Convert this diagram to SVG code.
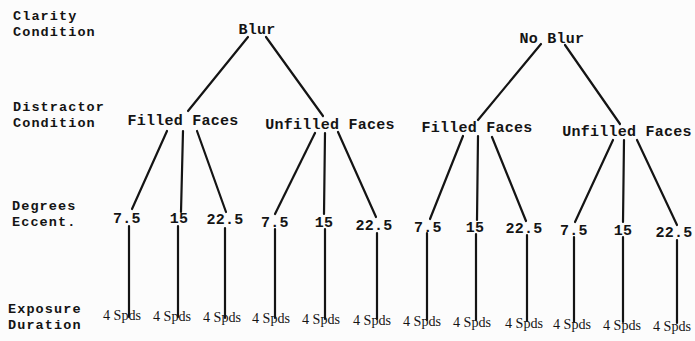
<svg xmlns="http://www.w3.org/2000/svg" width="695" height="341" viewBox="0 0 695 341">
  <defs>
    <style>
      .bg { fill: #fcfcfc; }
      .lbl { font-family: "Liberation Mono", "DejaVu Sans Mono", monospace; font-weight: bold; font-size: 13.5px; letter-spacing: 1.1px; fill: #141414; }
      .node { font-family: "Liberation Mono", "DejaVu Sans Mono", monospace; font-weight: bold; font-size: 15px; letter-spacing: 0.25px; fill: #141414; text-anchor: middle; }
      .dur { font-family: "Liberation Serif", "DejaVu Serif", serif; font-size: 14px; fill: #141414; text-anchor: middle; }
      .edge { stroke: #141414; stroke-width: 2.2; stroke-linecap: round; fill: none; }
    </style>
  </defs>

  <rect class="bg" x="0" y="0" width="695" height="341"/>

  <!-- row headings -->
  <g id="row-labels">
    <text class="lbl" x="13" y="20">Clarity</text>
    <text class="lbl" x="13" y="36">Condition</text>
    <text class="lbl" x="13" y="111">Distractor</text>
    <text class="lbl" x="13" y="127">Condition</text>
    <text class="lbl" x="12" y="210">Degrees</text>
    <text class="lbl" x="12" y="226">Eccent.</text>
    <text class="lbl" x="8" y="313">Exposure</text>
    <text class="lbl" x="8" y="329">Duration</text>
  </g>

  <!-- connectors -->
  <g id="connectors">
    <!-- clarity to distractor -->
    <line class="edge" x1="248" y1="37" x2="188" y2="111"/>
    <line class="edge" x1="266" y1="37" x2="323" y2="116"/>
    <line class="edge" x1="541" y1="44" x2="478" y2="120"/>
    <line class="edge" x1="565" y1="45" x2="620" y2="124"/>
    <!-- distractor to eccentricity -->
    <line class="edge" x1="167" y1="131" x2="132" y2="209"/>
    <line class="edge" x1="183" y1="131" x2="181" y2="212"/>
    <line class="edge" x1="197" y1="131" x2="226" y2="212"/>
    <line class="edge" x1="315" y1="133" x2="275" y2="214"/>
    <line class="edge" x1="325" y1="133" x2="324" y2="214"/>
    <line class="edge" x1="338" y1="132" x2="376" y2="217"/>
    <line class="edge" x1="463" y1="136" x2="430" y2="219"/>
    <line class="edge" x1="478" y1="136" x2="477" y2="220"/>
    <line class="edge" x1="492" y1="137" x2="526" y2="221"/>
    <line class="edge" x1="613" y1="140" x2="575" y2="222"/>
    <line class="edge" x1="624" y1="140" x2="623" y2="222"/>
    <line class="edge" x1="637" y1="140" x2="677" y2="225"/>
    <!-- eccentricity to exposure -->
    <line class="edge" x1="129" y1="226" x2="129" y2="317"/>
    <line class="edge" x1="178" y1="226" x2="178" y2="317"/>
    <line class="edge" x1="225" y1="228" x2="225" y2="318"/>
    <line class="edge" x1="275" y1="229" x2="275" y2="318"/>
    <line class="edge" x1="325" y1="229" x2="325" y2="319"/>
    <line class="edge" x1="377" y1="233" x2="377" y2="319"/>
    <line class="edge" x1="427" y1="233" x2="427" y2="320"/>
    <line class="edge" x1="476" y1="234" x2="476" y2="320"/>
    <line class="edge" x1="527" y1="235" x2="527" y2="321"/>
    <line class="edge" x1="574" y1="237" x2="574" y2="322"/>
    <line class="edge" x1="623" y1="237" x2="623" y2="322"/>
    <line class="edge" x1="677" y1="240" x2="677" y2="323"/>
  </g>

  <!-- clarity level -->
  <g id="blur"><text class="node" x="257" y="34">Blur</text></g>
  <g id="no-blur"><text class="node" x="552" y="43">No Blur</text></g>

  <!-- distractor level -->
  <g id="blur-filled"><text class="node" x="183" y="125">Filled Faces</text></g>
  <g id="blur-unfilled"><text class="node" x="330" y="129">Unfilled Faces</text></g>
  <g id="noblur-filled"><text class="node" x="477" y="132">Filled Faces</text></g>
  <g id="noblur-unfilled"><text class="node" x="627" y="136">Unfilled Faces</text></g>

  <!-- eccentricity level -->
  <g id="ecc-1"><text class="node" x="127" y="223">7.5</text></g>
  <g id="ecc-2"><text class="node" x="179" y="223">15</text></g>
  <g id="ecc-3"><text class="node" x="225" y="224">22.5</text></g>
  <g id="ecc-4"><text class="node" x="275" y="227">7.5</text></g>
  <g id="ecc-5"><text class="node" x="324" y="227">15</text></g>
  <g id="ecc-6"><text class="node" x="374" y="230">22.5</text></g>
  <g id="ecc-7"><text class="node" x="428" y="232">7.5</text></g>
  <g id="ecc-8"><text class="node" x="475" y="232">15</text></g>
  <g id="ecc-9"><text class="node" x="524" y="233">22.5</text></g>
  <g id="ecc-10"><text class="node" x="574" y="235">7.5</text></g>
  <g id="ecc-11"><text class="node" x="623" y="235">15</text></g>
  <g id="ecc-12"><text class="node" x="674" y="237">22.5</text></g>

  <!-- exposure level -->
  <g id="dur-1"><text class="dur" x="122" y="320" textLength="38" lengthAdjust="spacingAndGlyphs">4 Spds</text></g>
  <g id="dur-2"><text class="dur" x="172" y="321" textLength="38" lengthAdjust="spacingAndGlyphs">4 Spds</text></g>
  <g id="dur-3"><text class="dur" x="222" y="322" textLength="38" lengthAdjust="spacingAndGlyphs">4 Spds</text></g>
  <g id="dur-4"><text class="dur" x="271" y="323" textLength="38" lengthAdjust="spacingAndGlyphs">4 Spds</text></g>
  <g id="dur-5"><text class="dur" x="321" y="324" textLength="38" lengthAdjust="spacingAndGlyphs">4 Spds</text></g>
  <g id="dur-6"><text class="dur" x="372" y="325" textLength="38" lengthAdjust="spacingAndGlyphs">4 Spds</text></g>
  <g id="dur-7"><text class="dur" x="422" y="326" textLength="38" lengthAdjust="spacingAndGlyphs">4 Spds</text></g>
  <g id="dur-8"><text class="dur" x="472" y="327" textLength="38" lengthAdjust="spacingAndGlyphs">4 Spds</text></g>
  <g id="dur-9"><text class="dur" x="524" y="328" textLength="38" lengthAdjust="spacingAndGlyphs">4 Spds</text></g>
  <g id="dur-10"><text class="dur" x="572" y="329" textLength="38" lengthAdjust="spacingAndGlyphs">4 Spds</text></g>
  <g id="dur-11"><text class="dur" x="622" y="330" textLength="38" lengthAdjust="spacingAndGlyphs">4 Spds</text></g>
  <g id="dur-12"><text class="dur" x="672" y="331" textLength="38" lengthAdjust="spacingAndGlyphs">4 Spds</text></g>
</svg>
